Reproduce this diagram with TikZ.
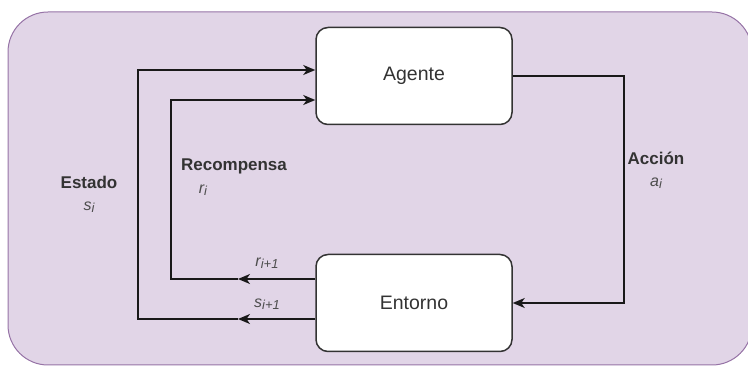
\documentclass[tikz,border=0pt]{standalone}
\usepackage{fontspec}
\setmainfont{Liberation Sans}
\usepackage{tikz}
\usetikzlibrary{positioning,arrows.meta}
\definecolor{bgfill}{HTML}{E1D5E7}
\definecolor{bgline}{HTML}{9673A6}
\definecolor{boxline}{HTML}{333333}
\definecolor{labgray}{HTML}{4D4D4D}
\newcommand{\idx}[1]{\raisebox{-1.5pt}{\fontsize{13}{14}\selectfont #1}}
\tikzset{
  bgbox/.style={draw=bgline, fill=bgfill, line width=1pt, rounded corners=40pt},
  block/.style={draw=boxline, fill=white, line width=1.5pt, rounded corners=12pt, minimum width=196pt, minimum height=97pt, font=\fontsize{19.5}{22}\selectfont, text=boxline},
  wire/.style={line width=1.5pt, draw=black!90},
  tip/.style={-{Stealth[length=12pt, width=10pt, inset=3.5pt]}},
  head/.style={font=\fontsize{17}{20}\selectfont\bfseries, text=boxline},
  sym/.style={font=\fontsize{16}{18}\selectfont\itshape, text=labgray}
}

\begin{document}
\begin{tikzpicture}[x=1pt, y=-1pt]
  \useasboundingbox (0,0) rectangle (748,366);
  \draw[bgbox] (8,12) rectangle (752,365);

  \node[block] (agent) at (414,76) {Agente};
  \node[block] (env) at (414,303) {Entorno};

  % turning points of the feedback loops
  \coordinate (smid) at (238,319);
  \coordinate (rmid) at (238,279);
  \coordinate (stop) at (138,70);
  \coordinate (rtop) at (171,100);
  \coordinate (aturn) at (624,303);

  \draw[wire, tip] (agent.east) -| (aturn) -- (env.east);

  \draw[wire, tip] (env.west |- smid) -- (smid);
  \draw[wire, tip] (smid) -| (stop) -- (agent.west |- stop);
  \draw[wire, tip] (env.west |- rmid) -- (rmid);
  \draw[wire, tip] (rmid) -| (rtop) -- (agent.west |- rtop);

  \node[head] (estado) at (89,182) {Estado};
  \node[sym] (si) at (89,207) {s\idx{i}};
  \node[head] (recomp) at (234,166) {Recompensa};
  \node[sym] (ri) at (203,190) {r\idx{i}};
  \node[head] (accion) at (656,158) {Acción};
  \node[sym] (ai) at (656,183) {a\idx{i}};
  \node[sym] (rnext) at (267,263) {r\idx{i+1}};
  \node[sym] (snext) at (267,304) {s\idx{i+1}};
\end{tikzpicture}
\end{document}
